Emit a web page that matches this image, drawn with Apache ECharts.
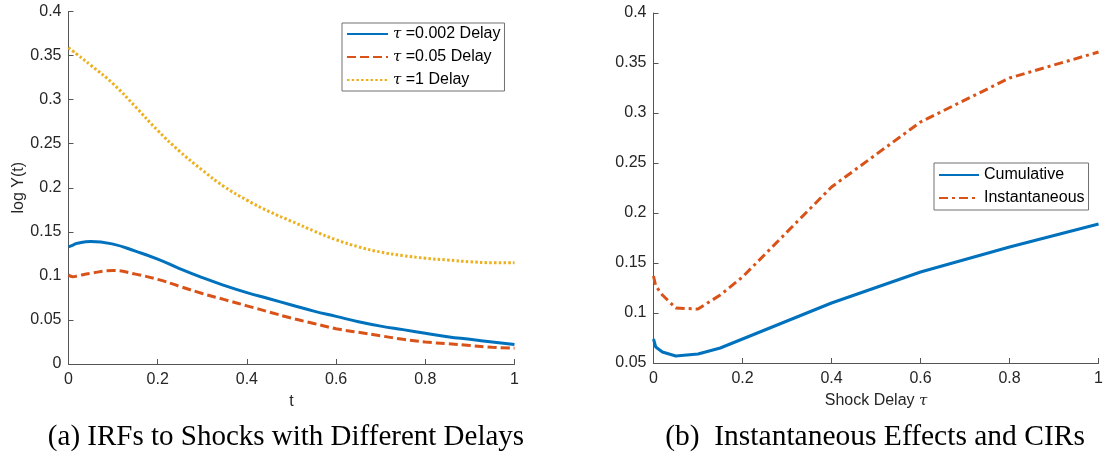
<!DOCTYPE html>
<html>
<head>
    <meta charset="utf-8">
    <title>IRFs and CIRs</title>
    <script src="https://cdn.jsdelivr.net/npm/echarts@6/dist/echarts.min.js"></script>
</head>
<body style="margin:0; background:#fff;">
    <div id="main" style="width:1106px;height:454px;"></div>
    <script>
        // 左图: 不同延迟的冲击响应
        var tGrid = [0, 0.01, 0.02, 0.05, 0.1, 0.15, 0.2, 0.25, 0.3, 0.35, 0.4, 0.45, 0.5,
            0.55, 0.6, 0.65, 0.7, 0.75, 0.8, 0.85, 0.9, 0.95, 1];
        var irfTau0002 = [0.133, 0.135, 0.137, 0.139, 0.136, 0.128, 0.119, 0.108, 0.098, 0.089, 0.081,
            0.074, 0.067, 0.060, 0.054, 0.048, 0.043, 0.039, 0.035, 0.031, 0.028, 0.025, 0.022];
        var irfTau005 = [0.101, 0.099, 0.100, 0.103, 0.106, 0.102, 0.096, 0.088, 0.080, 0.073, 0.066,
            0.059, 0.052, 0.046, 0.040, 0.036, 0.032, 0.028, 0.025, 0.023, 0.021, 0.019, 0.018];
        var irfTau1 = [0.359, 0.355, 0.351, 0.339, 0.318, 0.292, 0.265, 0.241, 0.220, 0.201, 0.186,
            0.173, 0.162, 0.151, 0.141, 0.133, 0.127, 0.123, 0.120, 0.118, 0.116, 0.115, 0.115];

        // 右图: 瞬时效应与累计响应
        var tauGrid = [0, 0.005, 0.02, 0.05, 0.1, 0.15, 0.2, 0.4, 0.6, 0.8, 1];
        var cumulative = [0.074, 0.066, 0.061, 0.057, 0.059, 0.065, 0.074, 0.110, 0.141, 0.166, 0.189];
        var instantaneous = [0.137, 0.127, 0.118, 0.105, 0.104, 0.118, 0.136, 0.226, 0.291, 0.335, 0.361];

        var namesLeft = ['τ =0.002 Delay', 'τ =0.05 Delay', 'τ =1 Delay'];
        var namesRight = ['Cumulative', 'Instantaneous'];
        var captions = ['(a) IRFs to Shocks with Different Delays', '(b)  Instantaneous Effects and CIRs'];

        function pairs(xs, ys) {
            return xs.map(function (x, i) { return [x, ys[i]]; });
        }

        var ink = '#262626';
        var axisCol = '#555';

        function xAxisOf(idx, name) {
            return {
                type: 'value', gridIndex: idx, min: 0, max: 1, interval: 0.2,
                name: name, nameLocation: 'middle', nameGap: 30,
                nameTextStyle: { color: ink, fontSize: 16, fontFamily: 'Liberation Sans', rich: { t: { fontStyle: 'italic', fontFamily: 'DejaVu Serif', fontSize: 15 } } },
                axisLine: { show: true, lineStyle: { color: axisCol, width: 1 } },
                axisTick: { show: true, inside: true, length: 5, lineStyle: { color: axisCol } },
                axisLabel: { color: ink, fontSize: 16, fontFamily: 'Liberation Sans', margin: 8 },
                splitLine: { show: false }
            };
        }

        function yAxisOf(idx, min, name) {
            return {
                type: 'value', gridIndex: idx, min: min, max: 0.4, interval: 0.05,
                name: name, nameLocation: 'middle', nameGap: 42,
                nameTextStyle: { color: ink, fontSize: 16, fontFamily: 'Liberation Sans' },
                axisLine: { show: true, lineStyle: { color: axisCol, width: 1 } },
                axisTick: { show: true, inside: true, length: 5, lineStyle: { color: axisCol } },
                axisLabel: { color: ink, fontSize: 16, fontFamily: 'Liberation Sans', margin: 7 },
                splitLine: { show: false }
            };
        }

        var legendText = {
            color: '#000', fontSize: 16, fontFamily: 'Liberation Sans',
            rich: { t: { fontStyle: 'italic', fontFamily: 'DejaVu Serif', fontSize: 15, color: '#000' } }
        };

        var myChart = echarts.init(document.getElementById('main'));

        var option = {
            animation: false,
            backgroundColor: '#fff',
            grid: [
                { left: 68.5, top: 11.5, width: 446, height: 352.5 },
                { left: 653.5, top: 13, width: 449.5, height: 350 }
            ],
            xAxis: [xAxisOf(0, 't'), xAxisOf(1, 'Shock Delay {t|τ}')],
            yAxis: [yAxisOf(0, 0, 'log Y(t)'), yAxisOf(1, 0.05, '')],
            legend: [
                {
                    data: namesLeft, orient: 'vertical', left: 342, top: 23,
                    itemWidth: 41, itemHeight: 14, itemGap: 7, padding: [3, 4, 3, 4],
                    borderColor: '#707070', borderWidth: 1, backgroundColor: '#fff',
                    itemStyle: { opacity: 0 },
                    textStyle: legendText,
                    formatter: function (n) { return n.replace('τ', '{t|τ}'); }
                },
                {
                    data: namesRight, orient: 'vertical', left: 934, top: 163,
                    itemWidth: 40, itemHeight: 14, itemGap: 7, padding: [4, 4, 4, 4],
                    borderColor: '#707070', borderWidth: 1, backgroundColor: '#fff',
                    itemStyle: { opacity: 0 },
                    textStyle: legendText
                }
            ],
            series: [
                {
                    name: namesLeft[0], type: 'line', xAxisIndex: 0, yAxisIndex: 0,
                    data: pairs(tGrid, irfTau0002), smooth: true, symbol: 'none',
                    lineStyle: { color: '#0072BD', width: 3 }, itemStyle: { color: '#0072BD' }
                },
                {
                    name: namesLeft[1], type: 'line', xAxisIndex: 0, yAxisIndex: 0,
                    data: pairs(tGrid, irfTau005), smooth: true, symbol: 'none',
                    lineStyle: { color: '#D95319', width: 3, type: [9, 4] }, itemStyle: { color: '#D95319' }
                },
                {
                    name: namesLeft[2], type: 'line', xAxisIndex: 0, yAxisIndex: 0,
                    data: pairs(tGrid, irfTau1), smooth: true, symbol: 'none',
                    lineStyle: { color: '#EDB120', width: 3, type: [2.5, 2.2] }, itemStyle: { color: '#EDB120' }
                },
                {
                    name: namesRight[0], type: 'line', xAxisIndex: 1, yAxisIndex: 1,
                    data: pairs(tauGrid, cumulative), symbol: 'none',
                    lineStyle: { color: '#0072BD', width: 3 }, itemStyle: { color: '#0072BD' }
                },
                {
                    name: namesRight[1], type: 'line', xAxisIndex: 1, yAxisIndex: 1,
                    data: pairs(tauGrid, instantaneous), symbol: 'none',
                    lineStyle: { color: '#D95319', width: 3, type: [9, 4, 3, 4] }, itemStyle: { color: '#D95319' }
                }
            ],
            graphic: [
                {
                    type: 'text', x: 286, y: 437,
                    style: { text: captions[0], font: '29px "Liberation Serif"', fill: '#000', align: 'center', verticalAlign: 'middle' }
                },
                {
                    type: 'text', x: 875, y: 437,
                    style: { text: captions[1], font: '29.5px "Liberation Serif"', fill: '#000', align: 'center', verticalAlign: 'middle' }
                }
            ]
        };
        myChart.setOption(option);
    </script>
</body>
</html>
